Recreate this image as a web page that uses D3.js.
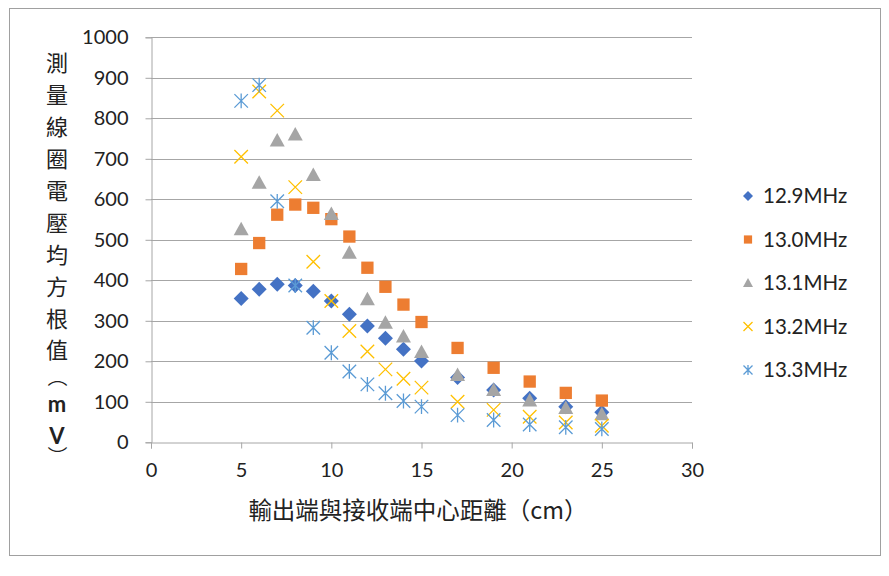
<!DOCTYPE html>
<html><head><meta charset="utf-8">
<script src="https://cdn.jsdelivr.net/npm/d3@7"></script>
<style>body{margin:0;background:#fff}svg{display:block}</style>
</head><body>
<script>
const distances = [5,6,7,8,9,10,11,12,13,14,15,17,19,21,23,25];
const s129 = [355,378,390,387,373,349,316,287,257,230,201,160,129,109,88,74];
const s130 = [428,492,562,587,579,551,508,431,384,340,297,233,184,150,122,103];
const s131 = [526,641,745,760,660,564,468,353,295,261,223,166,129,103,85,69];
const s132 = [705,866,819,630,446,349,275,224,180,157,135,100,80,63,49,41];
const s133 = [843,882,595,387,283,221,175,143,121,102,88,67,55,44,37,33];
const seriesNames = ["12.9MHz","13.0MHz","13.1MHz","13.2MHz","13.3MHz"];
const seriesColors = ["#4472C4","#ED7D31","#A5A5A5","#FFC000","#5B9BD5"];
const seriesShapes = ["diamond","square","triangle","x","star"];
const xTicks = [0,5,10,15,20,25,30];
const yTicks = [0,100,200,300,400,500,600,700,800,900,1000];
const yTitleChars = ["測","量","線","圈","電","壓","均","方","根","值","（","m","V","）"];
const xTitle = "輸出端與接收端中心距離（cm）";

const W = 889, H = 576;
const svg = d3.select("body").append("svg").attr("width", W).attr("height", H);
const font = "Lato, 'Noto Sans CJK TC', sans-serif";
const cjk = "'Noto Sans CJK TC', sans-serif";

svg.append("rect").attr("x",9.5).attr("y",8.5).attr("width",871).attr("height",547)
  .attr("fill","#fff").attr("stroke","#a0a0a0").attr("stroke-width",1);

const x = d3.scaleLinear().domain([0,30]).range([151, 692]);
const y = d3.scaleLinear().domain([0,1000]).range([442.3, 37.3]);

// gridlines
svg.append("g").selectAll("line").data(yTicks.filter(d=>d>0)).join("line")
  .attr("x1", x(0)).attr("x2", x(30))
  .attr("y1", d=>Math.round(y(d))+0.5).attr("y2", d=>Math.round(y(d))+0.5)
  .attr("stroke","#a6a6a6").attr("stroke-width",1);

// y axis
const yAxis = svg.append("g").attr("transform",`translate(${x(0)+0.5},0)`)
  .call(d3.axisLeft(y).tickValues(yTicks).tickFormat(d3.format("d")).tickSize(6).tickPadding(17));
yAxis.select(".domain").attr("stroke","#a6a6a6");
yAxis.selectAll(".tick line").attr("stroke","#a6a6a6");
yAxis.selectAll(".tick text").attr("font-family",font).attr("font-size",20).attr("fill","#222");

// x axis
const xAxis = svg.append("g").attr("transform",`translate(0,${Math.round(y(0))+0.5})`)
  .call(d3.axisBottom(x).tickValues(xTicks).tickSize(6).tickPadding(14));
xAxis.select(".domain").attr("stroke","#a6a6a6");
xAxis.selectAll(".tick line").attr("stroke","#a6a6a6");
xAxis.selectAll(".tick text").attr("font-family",font).attr("font-size",20).attr("fill","#222");

function drawMarker(g, shape, color, cx, cy, s) {
  const h = s/2;
  if (shape === "diamond") {
    g.append("path").attr("d",`M${cx},${cy-h}L${cx+h},${cy}L${cx},${cy+h}L${cx-h},${cy}Z`).attr("fill",color);
  } else if (shape === "square") {
    const q = h*0.82;
    g.append("rect").attr("x",cx-q).attr("y",cy-q).attr("width",2*q).attr("height",2*q).attr("fill",color);
  } else if (shape === "triangle") {
    g.append("path").attr("d",`M${cx},${cy-h}L${cx+h},${cy+h*0.8}L${cx-h},${cy+h*0.8}Z`).attr("fill",color);
  } else if (shape === "x") {
    const q = h*0.9;
    g.append("path").attr("d",`M${cx-q},${cy-q}L${cx+q},${cy+q}M${cx+q},${cy-q}L${cx-q},${cy+q}`)
      .attr("stroke",color).attr("stroke-width",1.3).attr("fill","none");
  } else if (shape === "star") {
    const q = h*0.9;
    g.append("path").attr("d",`M${cx-q},${cy-q}L${cx+q},${cy+q}M${cx+q},${cy-q}L${cx-q},${cy+q}M${cx},${cy-q*1.1}L${cx},${cy+q*1.1}`)
      .attr("stroke",color).attr("stroke-width",1.3).attr("fill","none");
  }
}

const allSeries = [s129,s130,s131,s132,s133];
allSeries.forEach((vals, i) => {
  const g = svg.append("g");
  vals.forEach((v, j) => drawMarker(g, seriesShapes[i], seriesColors[i], x(distances[j]), y(v), 15));
});

// legend
const legY = [196, 239.5, 283, 326.5, 370];
seriesNames.forEach((n, i) => {
  const g = svg.append("g");
  drawMarker(g, seriesShapes[i], seriesColors[i], 748, legY[i], 10);
  g.append("text").attr("x",763).attr("y",legY[i]).attr("dy","0.35em")
    .attr("font-family",font).attr("font-size",20.5).attr("fill","#222").text(n);
});

// y title
const yPos = [63,95,127,159,191,223,255,287,319,350,377,404,436,456];
const yt = svg.append("g");
yTitleChars.forEach((c, i) => {
  const isParen = c === "（" || c === "）";
  const t = yt.append("text")
    .attr("text-anchor","middle").attr("dy","0.35em")
    .attr("font-family", isParen ? cjk : font)
    .attr("font-size", isParen ? 20 : 22)
    .attr("font-weight", /[mV]/.test(c) ? "bold" : "normal")
    .attr("fill","#222").text(c);
  if (/[mV]/.test(c) || isParen) t.attr("font-family", /[mV]/.test(c) ? font : cjk);
  if (!/[mV]/.test(c) && !isParen) t.attr("font-family", cjk);
  if (isParen) t.attr("transform",`translate(57,${yPos[i]}) rotate(90)`);
  else t.attr("transform",`translate(57,${yPos[i]})`);
});

// x title
svg.append("text").attr("x",418).attr("y",511).attr("dy","0.35em").attr("text-anchor","middle")
  .attr("font-family",cjk).attr("font-size",23.5).attr("fill","#222").text(xTitle);
</script>
</body></html>
